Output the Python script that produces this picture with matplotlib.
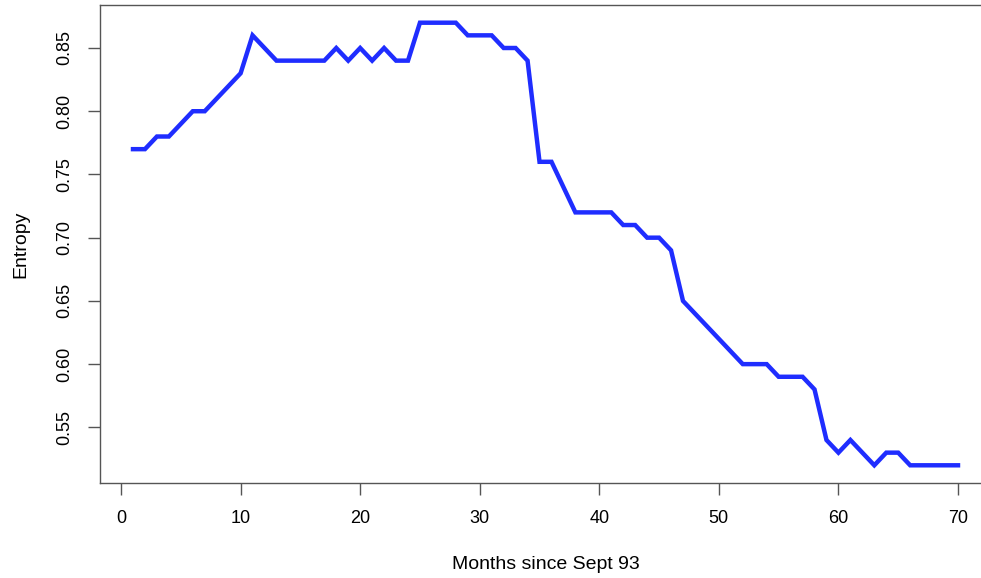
import matplotlib
matplotlib.use('Agg')
from matplotlib import pyplot as plt

# Entropy per month since Sept 93
meses = list(range(1, 71))
entropia = [0.77, 0.77, 0.78, 0.78, 0.79, 0.80, 0.80, 0.81, 0.82, 0.83,
            0.86, 0.85, 0.84, 0.84, 0.84, 0.84, 0.84, 0.85, 0.84, 0.85,
            0.84, 0.85, 0.84, 0.84, 0.87, 0.87, 0.87, 0.87, 0.86, 0.86,
            0.86, 0.85, 0.85, 0.84, 0.76, 0.76, 0.74, 0.72, 0.72, 0.72,
            0.72, 0.71, 0.71, 0.70, 0.70, 0.69, 0.65, 0.64, 0.63, 0.62,
            0.61, 0.60, 0.60, 0.60, 0.59, 0.59, 0.59, 0.58, 0.54, 0.53,
            0.54, 0.53, 0.52, 0.53, 0.53, 0.52, 0.52, 0.52, 0.52, 0.52]
xticks = [0, 10, 20, 30, 40, 50, 60, 70]
yticks = [0.55, 0.60, 0.65, 0.70, 0.75, 0.80, 0.85]

plt.rcParams['font.family'] = ['Liberation Sans', 'DejaVu Sans']

fig = plt.figure(figsize=(9.81, 5.78), dpi=100)
ax = fig.add_axes([100 / 981, (578 - 483) / 578, 891 / 981, 478 / 578])

ax.plot(meses, entropia, color='#1f2dff', linewidth=3.2, solid_joinstyle='miter')

# rango como en R (4% de margen)
ax.set_xlim(1 - 0.04 * 69, 70 + 0.04 * 69)
ax.set_ylim(0.52 - 0.04 * 0.35, 0.87 + 0.04 * 0.35)

ax.set_xticks(xticks)
ax.set_xticklabels([str(t) for t in xticks])
ax.set_yticks(yticks)
ax.set_yticklabels(['%.2f' % t for t in yticks], rotation=90, va='center')

for s in ax.spines.values():
    s.set_color('#555555')
    s.set_linewidth(1.0)

ax.tick_params(axis='both', which='major', labelsize=13, length=8.5,
               width=1.0, color='#555555', direction='out', pad=11)

ax.set_xlabel('Months since Sept 93', fontsize=14, labelpad=21)
ax.set_ylabel('Entropy', fontsize=14, labelpad=19)

fig.savefig('out.png', dpi=100)
